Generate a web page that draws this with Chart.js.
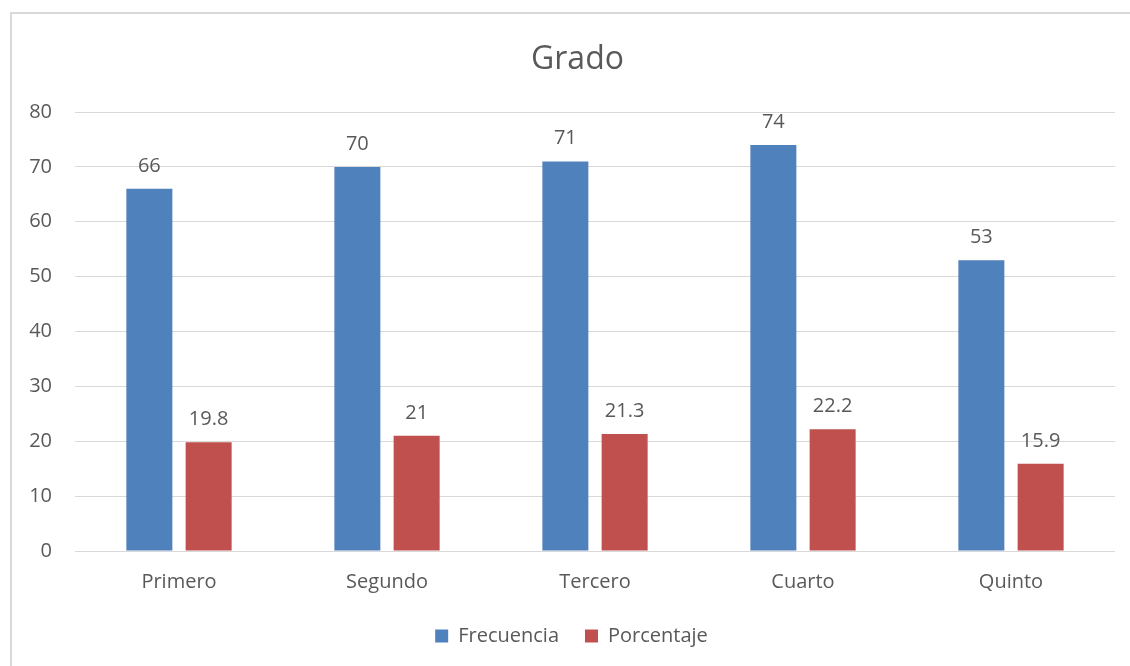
<!DOCTYPE html>
<html>
<head>
<meta charset="utf-8">
<script src="https://cdn.jsdelivr.net/npm/chart.js@4.4.1/dist/chart.umd.min.js"></script>
<style>
  html, body { margin: 0; padding: 0; background: #ffffff; overflow: hidden; width: 1130px; height: 666px; }
  #frame { position: absolute; left: 10px; top: 12px; width: 2000px; height: 2000px; border-left: 2px solid #d9d9d9; border-top: 2px solid #d9d9d9; box-sizing: border-box; }
  #wrap { position: absolute; left: 10px; top: 0px; width: 1135px; height: 666px; }
</style>
</head>
<body>
<div id="frame"></div>
<div id="wrap"><canvas id="c"></canvas></div>
<script>
const categories = ["Primero", "Segundo", "Tercero", "Cuarto", "Quinto"];
const frecuencia = [66, 70, 71, 74, 53];
const porcentaje = [19.8, 21, 21.3, 22.2, 15.9];
const yTicks = [0, 10, 20, 30, 40, 50, 60, 70, 80];
const chartTitle = "Grado";

const FONT = "'Open Sans', 'Noto Sans', sans-serif";
const TEXT = "#595959";

const dataLabels = {
  id: 'dataLabels',
  afterDatasetsDraw(chart) {
    const ctx = chart.ctx;
    ctx.save();
    ctx.font = "20px " + FONT;
    ctx.fillStyle = TEXT;
    ctx.textAlign = 'center';
    ctx.textBaseline = 'alphabetic';
    chart.data.datasets.forEach((ds, i) => {
      const meta = chart.getDatasetMeta(i);
      meta.data.forEach((el, j) => {
        ctx.fillText(String(ds.data[j]), el.x, el.y - 17);
      });
    });
    ctx.restore();
  }
};

const centeredTitle = {
  id: 'centeredTitle',
  afterDraw(chart) {
    const ctx = chart.ctx;
    ctx.save();
    ctx.font = "32px " + FONT;
    ctx.fillStyle = TEXT;
    ctx.textAlign = 'center';
    ctx.textBaseline = 'middle';
    ctx.fillText(chartTitle, chart.width / 2, 60);
    ctx.restore();
  }
};

new Chart(document.getElementById('c'), {
  type: 'bar',
  data: {
    labels: categories,
    datasets: [
      { label: 'Frecuencia', data: frecuencia, backgroundColor: '#4F81BD', categoryPercentage: 0.57, barPercentage: 0.776 },
      { label: 'Porcentaje', data: porcentaje, backgroundColor: '#C0504D', categoryPercentage: 0.57, barPercentage: 0.776 }
    ]
  },
  options: {
    responsive: true,
    maintainAspectRatio: false,
    animation: false,
    layout: { padding: { left: 18, right: 30, top: 112, bottom: 10 } },
    plugins: {
      title: { display: false },
      legend: {
        position: 'bottom',
        labels: {
          color: TEXT, font: { family: FONT, size: 20 },
          boxWidth: 13, boxHeight: 13, padding: 26
        }
      },
      tooltip: { enabled: false }
    },
    scales: {
      x: {
        afterFit(scale) { scale.height = 49; },
        grid: { display: false, drawTicks: false },
        border: { display: false },
        ticks: { color: TEXT, font: { family: FONT, size: 20 }, padding: 19 }
      },
      y: {
        min: 0, max: 80,
        afterFit(scale) { scale.width = 47; scale.paddingTop = 0; scale.paddingBottom = 0; },
        afterBuildTicks(scale) { scale.ticks = yTicks.map(v => ({ value: v })); },
        grid: { color: '#d9d9d9', lineWidth: 1, drawTicks: false },
        border: { display: false },
        ticks: { color: TEXT, font: { family: FONT, size: 20 }, padding: 23 }
      }
    }
  },
  plugins: [dataLabels, centeredTitle]
});
</script>
</body>
</html>
